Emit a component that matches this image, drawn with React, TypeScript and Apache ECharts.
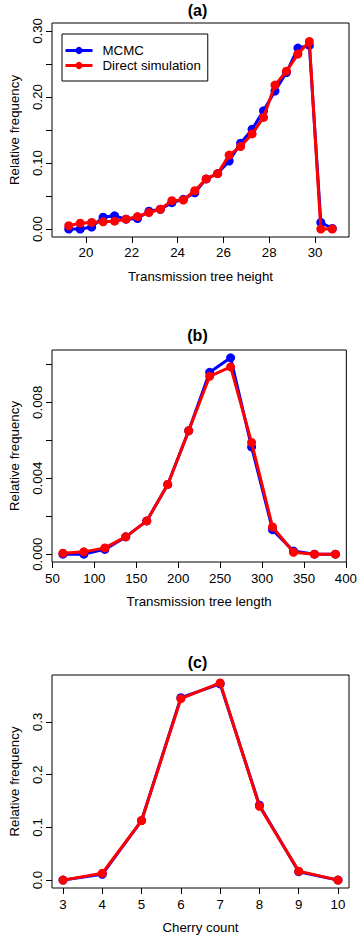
import React, { useEffect, useRef } from "react";
import * as echarts from "echarts";

// Panel (a): transmission tree height
const aX = [19.25, 19.75, 20.25, 20.75, 21.25, 21.75, 22.25, 22.75, 23.25, 23.75, 24.25, 24.75, 25.25, 25.75, 26.25, 26.75, 27.25, 27.75, 28.25, 28.75, 29.25, 29.75, 30.25, 30.75];
const aMcmc = [0.000, 0.000, 0.003, 0.018, 0.020, 0.015, 0.016, 0.027, 0.030, 0.040, 0.045, 0.055, 0.076, 0.084, 0.103, 0.130, 0.151, 0.179, 0.209, 0.237, 0.274, 0.278, 0.010, 0.001];
const aDirect = [0.005, 0.009, 0.010, 0.011, 0.012, 0.015, 0.019, 0.025, 0.030, 0.043, 0.044, 0.058, 0.076, 0.084, 0.112, 0.125, 0.144, 0.169, 0.218, 0.239, 0.265, 0.284, 0.000, 0.000];
const aXTicks = [20, 22, 24, 26, 28, 30];
const aYTicks = [0, 0.05, 0.1, 0.15, 0.2, 0.25, 0.3];
const aYLabels = [0, 0.1, 0.2, 0.3];

// Panel (b): transmission tree length
const bX = [62.5, 87.5, 112.5, 137.5, 162.5, 187.5, 212.5, 237.5, 262.5, 287.5, 312.5, 337.5, 362.5, 387.5];
const bMcmc = [0.0, 0.0, 0.00025, 0.00091, 0.00175, 0.00367, 0.0065, 0.00958, 0.01034, 0.00565, 0.00129, 0.00016, 0.0, 0.0];
const bDirect = [0.00005, 0.00012, 0.00033, 0.00091, 0.00175, 0.00367, 0.0065, 0.00937, 0.00986, 0.00588, 0.00143, 0.0001, 0.0, 0.0];
const bXTicks = [50, 100, 150, 200, 250, 300, 350, 400];
const bYTicks = [0, 0.002, 0.004, 0.006, 0.008, 0.01];
const bYLabels = [0, 0.004, 0.008];

// Panel (c): cherry count
const cX = [3, 4, 5, 6, 7, 8, 9, 10];
const cMcmc = [0.000, 0.011, 0.113, 0.346, 0.372, 0.142, 0.016, 0.000];
const cDirect = [0.000, 0.013, 0.113, 0.344, 0.374, 0.140, 0.017, 0.000];
const cXTicks = [3, 4, 5, 6, 7, 8, 9, 10];
const cYTicks = [0, 0.1, 0.2, 0.3];
const cYLabels = [0, 0.1, 0.2, 0.3];

const titles = ["(a)", "(b)", "(c)"];
const xNames = ["Transmission tree height", "Transmission tree length", "Cherry count"];
const yName = "Relative frequency";
const seriesNames = ["MCMC", "Direct simulation"];

const FONT = '"Liberation Sans", Arial, Helvetica, sans-serif';
const FS = 13.3;
const BLUE = "#0000ff";
const RED = "#ff0000";

function pairs(xs: number[], ys: number[]) {
  return xs.map((x, i) => [x, ys[i]]);
}

function xAxisOf(gridIndex: number, min: number, max: number, ticks: number[], name: string, margin: number) {
  return {
    type: "value",
    gridIndex,
    min,
    max,
    name,
    nameLocation: "middle",
    nameGap: 33,
    nameTextStyle: { fontFamily: FONT, fontSize: FS, color: "#000" },
    axisLine: { show: false, onZero: false },
    splitLine: { show: false },
    axisTick: { show: true, inside: false, length: 6, customValues: ticks, lineStyle: { color: "#000", width: 1 } },
    axisLabel: {
      show: true,
      customValues: ticks,
      margin,
      fontFamily: FONT,
      fontSize: FS,
      color: "#000",
      formatter: (v: number) => String(v),
    },
  };
}

function yAxisOf(gridIndex: number, min: number, max: number, ticks: number[], labels: number[], digits: number) {
  return {
    type: "value",
    gridIndex,
    min,
    max,
    name: yName,
    nameLocation: "middle",
    nameGap: 31,
    nameRotate: 90,
    nameTextStyle: { fontFamily: FONT, fontSize: FS, color: "#000" },
    axisLine: { show: false, onZero: false },
    splitLine: { show: false },
    axisTick: { show: true, inside: false, length: 6, customValues: ticks, lineStyle: { color: "#000", width: 1 } },
    axisLabel: {
      show: true,
      customValues: labels,
      rotate: 90,
      margin: 8,
      fontFamily: FONT,
      fontSize: FS,
      color: "#000",
      formatter: (v: number) => v.toFixed(digits),
    },
  };
}

function lineSeries(name: string, color: string, idx: number, data: number[][]) {
  return {
    type: "line",
    name,
    xAxisIndex: idx,
    yAxisIndex: idx,
    data,
    symbol: "circle",
    symbolSize: 9,
    showSymbol: true,
    itemStyle: { color },
    lineStyle: { color, width: 3 },
    z: color === RED ? 3 : 2,
  };
}

export default function App() {
  const ref = useRef<HTMLDivElement>(null);
  useEffect(() => {
    if (!ref.current) return;
    const chart = echarts.init(ref.current, undefined, { renderer: "svg" });
    const gridBase = { left: 46, width: 303, show: true, borderColor: "#000", borderWidth: 1, backgroundColor: "transparent" };
    const titleY = [10, 335, 662];
    chart.setOption({
      animation: false,
      backgroundColor: "#fff",
      textStyle: { fontFamily: FONT },
      grid: [
        { ...gridBase, top: 23, height: 214 },
        { ...gridBase, top: 350, height: 212 },
        { ...gridBase, top: 675, height: 213 },
      ],
      xAxis: [
        xAxisOf(0, 18.52, 31.48, aXTicks, xNames[0], 9),
        xAxisOf(1, 49.5, 400.5, bXTicks, xNames[1], 10),
        xAxisOf(2, 2.72, 10.28, cXTicks, xNames[2], 10),
      ],
      yAxis: [
        yAxisOf(0, -0.012, 0.312, aYTicks, aYLabels, 2),
        yAxisOf(1, -0.000414, 0.010754, bYTicks, bYLabels, 3),
        yAxisOf(2, -0.01496, 0.38896, cYTicks, cYLabels, 1),
      ],
      legend: {
        data: seriesNames,
        orient: "vertical",
        left: 62,
        top: 34,
        padding: [10, 7, 9, 2],
        itemGap: 2,
        itemWidth: 27,
        itemHeight: 9,
        borderColor: "#000",
        borderWidth: 1,
        backgroundColor: "#fff",
        selectedMode: false,
        lineStyle: { width: 3 },
        textStyle: { fontFamily: FONT, fontSize: FS, color: "#000", padding: [0, 0, 0, 5] },
      },
      graphic: titles.map((t, i) => ({
        type: "text",
        x: 197.5,
        y: titleY[i],
        style: {
          text: t,
          textAlign: "center",
          textVerticalAlign: "middle",
          font: `bold 16px ${FONT}`,
          fill: "#000",
        },
      })),
      series: [
        lineSeries(seriesNames[0], BLUE, 0, pairs(aX, aMcmc)),
        lineSeries(seriesNames[1], RED, 0, pairs(aX, aDirect)),
        lineSeries(seriesNames[0], BLUE, 1, pairs(bX, bMcmc)),
        lineSeries(seriesNames[1], RED, 1, pairs(bX, bDirect)),
        lineSeries(seriesNames[0], BLUE, 2, pairs(cX, cMcmc)),
        lineSeries(seriesNames[1], RED, 2, pairs(cX, cDirect)),
      ],
    });
    return () => chart.dispose();
  }, []);
  return (
    <div
      ref={ref}
      style={{ position: "absolute", left: 0, top: 0, width: 360, height: 939 }}
    />
  );
}
